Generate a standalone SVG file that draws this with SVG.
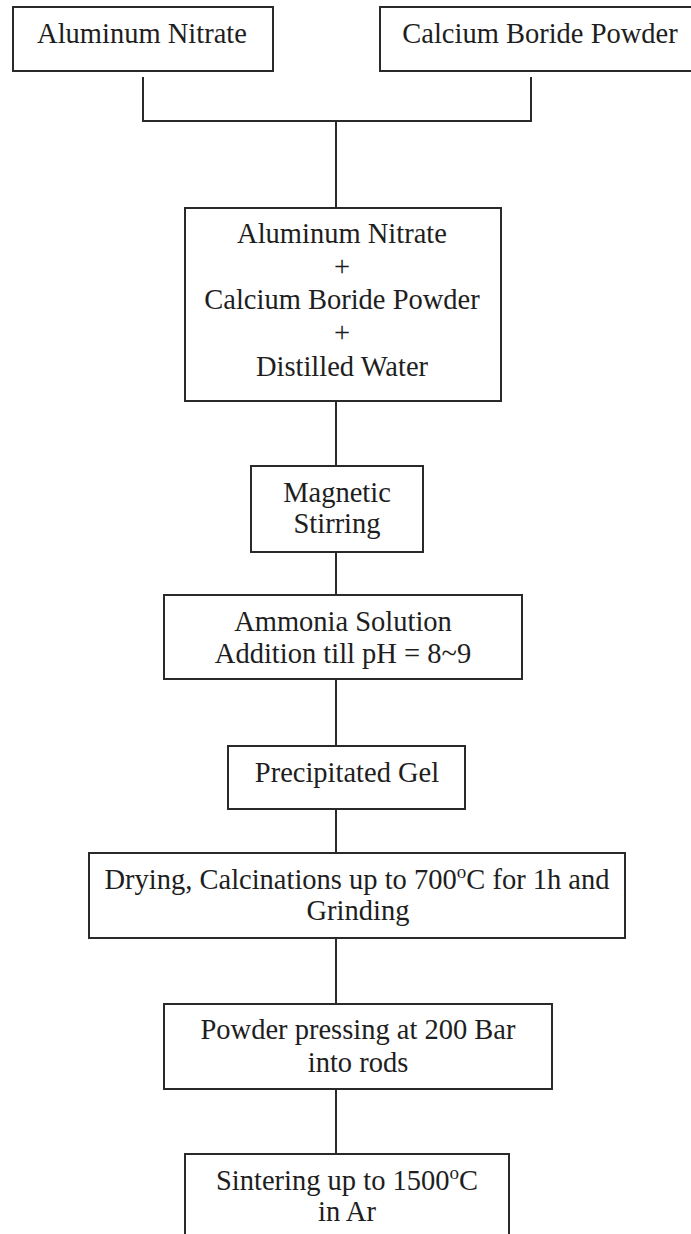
<svg xmlns="http://www.w3.org/2000/svg" width="691" height="1234" viewBox="0 0 691 1234">
<style>
.box{fill:#fff;stroke:#2a2a2a;stroke-width:2}
.t{font-family:"Liberation Serif","Times New Roman",serif;font-size:28.5px;fill:#1e1e1e;text-anchor:middle}
.c{fill:none;stroke:#2a2a2a;stroke-width:2}
</style>
<rect width="691" height="1234" fill="#fff"/>
<g id="connectors">
<polyline class="c" points="143,77 143,121 531,121 531,77"/>
<line class="c" x1="336" y1="121" x2="336" y2="208"/>
<line class="c" x1="336" y1="401" x2="336" y2="466"/>
<line class="c" x1="336" y1="552" x2="336" y2="595"/>
<line class="c" x1="336" y1="679" x2="336" y2="746"/>
<line class="c" x1="336" y1="809" x2="336" y2="853"/>
<line class="c" x1="336" y1="938" x2="336" y2="1004"/>
<line class="c" x1="336" y1="1089" x2="336" y2="1154"/>
</g>
<g id="n1"><rect class="box" x="13" y="7" width="260" height="64"/><text class="t" x="142" y="43">Aluminum Nitrate</text></g>
<g id="n2"><rect class="box" x="380" y="7" width="322" height="64"/><text class="t" x="540" y="43">Calcium Boride Powder</text></g>
<g id="n3"><rect class="box" x="185" y="208" width="316" height="193"/>
<text class="t" x="342" y="243">Aluminum Nitrate</text>
<text class="t" x="342" y="276">+</text>
<text class="t" x="342" y="309">Calcium Boride Powder</text>
<text class="t" x="342" y="342">+</text>
<text class="t" x="342" y="376">Distilled Water</text></g>
<g id="n4"><rect class="box" x="251" y="466" width="172" height="86"/>
<text class="t" x="337" y="502">Magnetic</text>
<text class="t" x="337" y="533">Stirring</text></g>
<g id="n5"><rect class="box" x="164" y="595" width="358" height="84"/>
<text class="t" x="343" y="631">Ammonia Solution</text>
<text class="t" x="343" y="663">Addition till pH = 8~9</text></g>
<g id="n6"><rect class="box" x="228" y="746" width="237" height="63"/>
<text class="t" x="347" y="782">Precipitated Gel</text></g>
<g id="n7"><rect class="box" x="89" y="853" width="536" height="85"/>
<text class="t" x="357" y="889">Drying, Calcinations up to 700<tspan dy="-11" font-size="19">o</tspan><tspan dy="11">C for 1h and</tspan></text>
<text class="t" x="358" y="920">Grinding</text></g>
<g id="n8"><rect class="box" x="164" y="1004" width="388" height="85"/>
<text class="t" x="358" y="1039">Powder pressing at 200 Bar</text>
<text class="t" x="358" y="1072">into rods</text></g>
<g id="n9"><rect class="box" x="185" y="1154" width="324" height="100"/>
<text class="t" x="347" y="1190">Sintering up to 1500<tspan dy="-11" font-size="19">o</tspan><tspan dy="11">C</tspan></text>
<text class="t" x="347" y="1221">in Ar</text></g>
</svg>
